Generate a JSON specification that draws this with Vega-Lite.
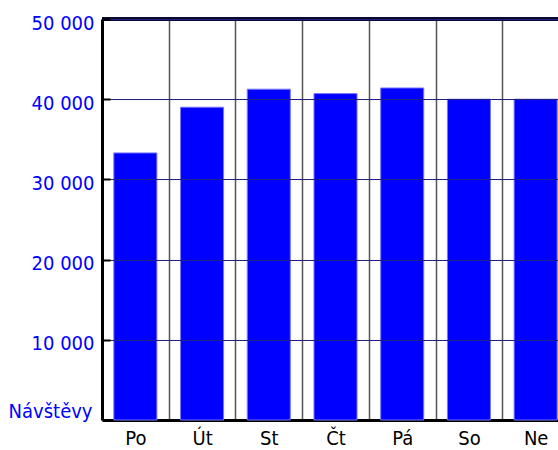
{
  "$schema": "https://vega.github.io/schema/vega-lite/v6.json",
  "width": 456,
  "height": 401,
  "autosize": {"type": "none"},
  "padding": {"left": 102, "top": 19, "right": 0, "bottom": 30},
  "background": "white",
  "config": {"view": {"stroke": null}, "font": "DejaVu Sans Condensed, Liberation Sans"},
  "data": {
    "values": [
      {"den": "Po", "navstevy": 33300},
      {"den": "Út", "navstevy": 39000},
      {"den": "St", "navstevy": 41250},
      {"den": "Čt", "navstevy": 40700},
      {"den": "Pá", "navstevy": 41400},
      {"den": "So", "navstevy": 40000},
      {"den": "Ne", "navstevy": 40000}
    ]
  },
  "layer": [
    {
      "mark": {"type": "bar", "color": "#0000ff", "width": {"band": 0.645}, "stroke": "#7777ff", "strokeWidth": 1},
      "encoding": {
        "x": {
          "field": "den",
          "type": "nominal",
          "sort": null,
          "scale": {"range": [0, 467], "paddingInner": 0, "paddingOuter": 0},
          "axis": {
            "title": null,
            "labelAngle": 0,
            "labelFont": "DejaVu Sans Condensed, Liberation Sans",
            "labelFontSize": 20,
            "labelColor": "black",
            "ticks": false,
            "labelPadding": 8,
            "domainColor": "black",
            "domainWidth": 3,
            "grid": true,
            "tickBand": "extent",
            "gridColor": "#555555",
            "gridWidth": 1.5,
            "zindex": 0
          }
        },
        "y": {
          "field": "navstevy",
          "type": "quantitative",
          "scale": {"domain": [0, 50000], "nice": false},
          "axis": {
            "values": [10000, 20000, 30000, 40000, 50000],
            "labelExpr": "replace(format(datum.value, ','), ',', ' ')",
            "labelFont": "DejaVu Sans Condensed, Liberation Sans",
            "labelFontSize": 20,
            "labelColor": "#0000ff",
            "labelOffset": 4,
            "labelPadding": 16,
            "domainColor": "black",
            "domainWidth": 3,
            "tickColor": "black",
            "tickWidth": 2,
            "tickSize": -8,
            "gridColor": "#202080",
            "gridWidth": 1,
            "title": "Návštěvy",
            "titleAngle": 0,
            "titleAlign": "right",
            "titleBaseline": "alphabetic",
            "titleX": -10,
            "titleY": 398,
            "titleColor": "#0000ff",
            "titleFont": "DejaVu Sans Condensed, Liberation Sans",
            "titleFontSize": 20,
            "titleFontWeight": "normal",
            "zindex": 1
          }
        }
      }
    },
    {
      "mark": {"type": "rule", "color": "#0a0a30", "strokeWidth": 3},
      "encoding": {"y": {"datum": 50000}}
    }
  ]
}
